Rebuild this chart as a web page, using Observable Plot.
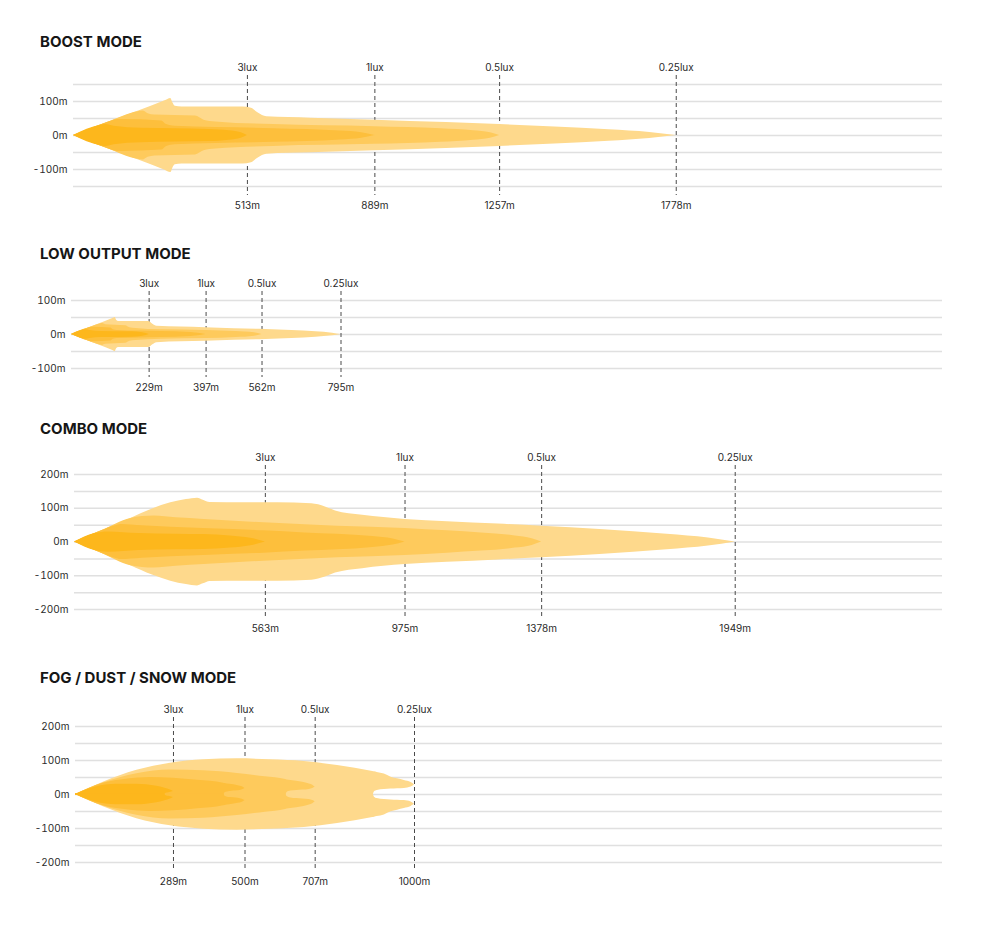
<!DOCTYPE html>
<html><head><meta charset="utf-8">
<script src="https://cdn.jsdelivr.net/npm/d3@7"></script>
<script src="https://cdn.jsdelivr.net/npm/@observablehq/plot@0.6"></script>
<style>
body{margin:0;background:#fff;font-family:Inter,"Noto Sans",sans-serif;}
#root{position:relative;width:1000px;height:930px;overflow:hidden;}
.title{position:absolute;left:40px;font-size:15px;font-weight:700;line-height:1;color:#161616;white-space:nowrap;}
.panel{position:absolute;left:0;}
</style></head><body><div id="root"></div>
<script>
// ---- data ----
const luxLabels = ["3lux", "1lux", "0.5lux", "0.25lux"];

const boostDistances = [513, 889, 1257, 1778];
const lowDistances = [229, 397, 562, 795];
const comboDistances = [563, 975, 1378, 1949];
const fogDistances = [289, 500, 707, 1000];

const ticksSmall = [100, 0, -100];
const ticksLarge = [200, 100, 0, -100, -200];
const gridBoost = [150, 100, 50, 0, -50, -100, -150];
const gridLow = [100, 50, 0, -50, -100];
const gridLarge = [200, 150, 100, 50, 0, -50, -100, -150, -200];

// beam outlines: [distance m, half-width m, (inner half-width m for forked ends)]
const boost025 = [[0,0],[100,38],[200,75],[270,102],[287,109],[293,96],[300,86],[320,84],[500,84],[525,80],[545,66],[570,55],[700,51],[889,45],[1100,38],[1257,32],[1420,25],[1580,17],[1700,9],[1778,0]];
const boost05 = [[0,0],[100,38],[190,70],[205,72],[220,64],[240,60],[360,57],[385,45],[420,40],[590,32],[889,26],[1084,20],[1180,14],[1230,8],[1257,0]];
const boost1 = [[0,0],[100,38],[125,46],[140,47],[260,43],[275,32],[300,27],[590,20],[788,13],[850,8],[889,0]];
const boost3 = [[0,0],[80,30],[95,32],[120,27],[200,21],[400,18],[460,14],[495,8],[513,0]];

const low025 = [[0,0],[50,19],[100,38],[122,47],[129,50],[133,42],[139,38],[228,38],[240,30],[252,24],[395,20],[480,17],[573,15],[650,12],[721,8],[770,4],[795,0]];
const low05 = [[0,0],[50,19],[85,31],[92,32],[100,29],[160,26],[172,20],[190,18],[264,14],[397,12],[485,9],[540,5],[562,0]];
const low1 = [[0,0],[50,19],[58,21],[63,21],[116,19],[123,14],[134,12],[264,9],[352,6],[380,3],[397,0]];
const low3 = [[0,0],[36,13],[42,14],[54,12],[89,9],[179,8],[206,6],[221,3],[229,0]];

const combo025 = [[0,0],[80,33],[166,70],[230,98],[284,116],[330,126],[363,130],[380,124],[400,117],[500,116],[600,116],[700,113],[740,104],[770,92],[850,79],[975,67],[1100,60],[1250,53],[1378,47],[1550,37],[1748,23],[1870,12],[1949,0]];
const combo05 = [[0,0],[80,33],[166,70],[235,77],[300,72],[382,67],[460,62],[559,57],[680,51],[776,47],[975,40],[1100,33],[1200,27],[1300,18],[1350,10],[1378,0]];
const combo1 = [[0,0],[80,33],[120,48],[137,52],[200,48],[284,44],[400,39],[559,33],[680,27],[776,23],[880,16],[940,9],[975,0]];
const combo3 = [[0,0],[60,25],[100,30],[190,25],[300,23],[380,22],[460,18],[520,11],[563,0]];

const fog025 = [[0,0,0],[82,36,0],[181,71,0],[280,92,0],[378,102,0],[477,105,0],[576,102,0],[675,97,0],[773,85,0],[877,68,0],[882,67,8],[890,65,12],[911,60,15],[931,51,16],[950,46,17],[970,41,18],[990,35,22],[1000,29,29]];
const fog05 = [[0,0,0],[82,34,0],[181,61,0],[280,72,0],[378,70,0],[477,62,0],[560,52,0],[620,44,0],[624,43,6],[635,41,10],[670,36,13],[690,31,15],[700,27,18],[707,21,21]];
const fog1 = [[0,0,0],[82,33,0],[150,45,0],[220,50,0],[289,48,0],[360,42,0],[437,33,0],[441,32,5],[455,30,9],[480,26,11],[492,23,14],[500,18,18]];
const fog3 = [[0,0,0],[60,22,0],[120,30,0],[180,30,0],[240,24,0],[262,19,0],[266,18,3],[278,14,6],[289,9,9]];

// ---- layout / style ----
const colors = ["#FED98C", "#FECA5C", "#FDBF3C", "#FDB71C"];
const pxPerM = 0.339;
const panels = [
  {title: "BOOST MODE", titleTop: 34, top: 54, ml: 73, frameH: 102, yDomain: [-150, 150], ticks: ticksSmall, grid: gridBoost, distances: boostDistances, beams: [boost025, boost05, boost1, boost3]},
  {title: "LOW OUTPUT MODE", titleTop: 246, top: 270, ml: 71, frameH: 68, yDomain: [-100, 100], ticks: ticksSmall, grid: gridLow, distances: lowDistances, beams: [low025, low05, low1, low3]},
  {title: "COMBO MODE", titleTop: 421, top: 444, ml: 74, frameH: 135, yDomain: [-200, 200], ticks: ticksLarge, grid: gridLarge, distances: comboDistances, beams: [combo025, combo05, combo1, combo3]},
  {title: "FOG / DUST / SNOW MODE", titleTop: 670, top: 696, ml: 75, frameH: 136, yDomain: [-200, 200], ticks: ticksLarge, grid: gridLarge, distances: fogDistances, beams: [fog025, fog05, fog1, fog3]}
];

const root = document.getElementById("root");

function beamMarks(rows, fill) {
  const data = rows.map(([d, w, inner]) => ({d, w, inner: inner || 0}));
  const forked = data.some(r => r.inner > 0);
  const opts = {x: "d", fill, curve: "monotone-x"};
  if (!forked) {
    return [Plot.areaY(data, {...opts, y1: r => -r.w, y2: r => r.w})];
  }
  return [
    Plot.areaY(data, {...opts, y1: r => (r.inner > 0 ? r.inner : -2), y2: r => r.w}),
    Plot.areaY(data, {...opts, y1: r => -r.w, y2: r => (r.inner > 0 ? -r.inner : 2)})
  ];
}

for (const p of panels) {
  const t = document.createElement("div");
  t.className = "title";
  t.style.top = p.titleTop + "px";
  t.textContent = p.title;
  root.appendChild(t);

  const mt = 30, mb = 30, mr = 58;
  const xMax = (1000 - mr - p.ml) / pxPerM;
  const chart = Plot.plot({
    width: 1000,
    height: mt + p.frameH + mb,
    marginTop: mt, marginBottom: mb, marginLeft: p.ml, marginRight: mr,
    x: {domain: [0, xMax], axis: null},
    y: {domain: p.yDomain, axis: null},
    style: {fontFamily: "Inter, 'Noto Sans', sans-serif", fontSize: "10px", color: "#2a2a2a", background: "transparent", overflow: "visible"},
    marks: [
      Plot.ruleY(p.grid, {stroke: "#e0e0e0", strokeWidth: 1.5}),
      Plot.ruleX(p.distances, {x: d => d, stroke: "#4a4a4a", strokeWidth: 1, strokeDasharray: "4,3", insetTop: -9, insetBottom: -9}),
      ...p.beams.flatMap((b, i) => beamMarks(b, colors[i])),
      Plot.axisY(p.ticks, {tickSize: 0, tickPadding: 6, tickFormat: d => `${d}m`, fontSize: 10, fill: "#2a2a2a", label: null}),
      Plot.text(p.distances, {x: d => d, text: (d, i) => luxLabels[i], frameAnchor: "top", lineAnchor: "middle", dy: -17, fill: "#2a2a2a", fontSize: 10}),
      Plot.text(p.distances, {x: d => d, text: d => `${d}m`, frameAnchor: "bottom", lineAnchor: "middle", dy: 19, fill: "#2a2a2a", fontSize: 10})
    ]
  });
  chart.classList.add("panel");
  chart.style.top = p.top + "px";
  root.appendChild(chart);
}
</script>
</body></html>
